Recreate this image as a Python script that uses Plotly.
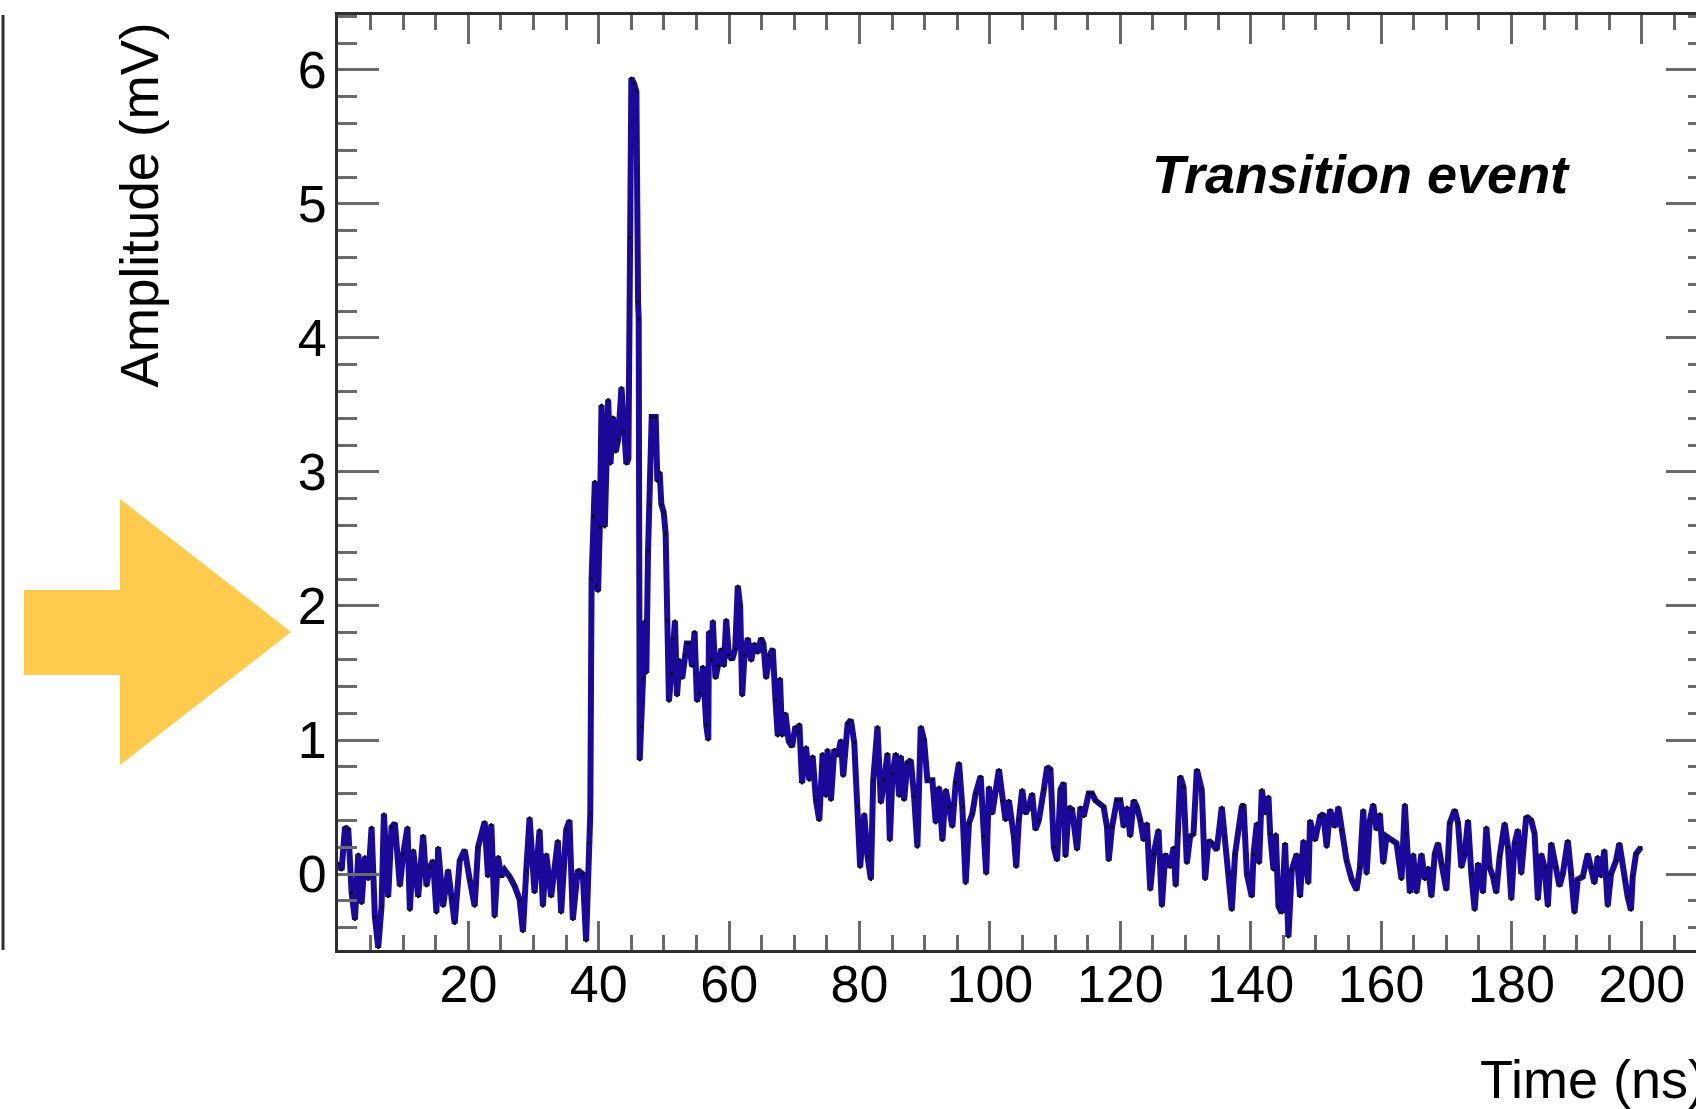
import plotly.graph_objects as go

# ---- digitiser trace, time in ns and amplitude in mV ----
t_baseline = [0.05, 0.56, 1.07, 1.58, 2.09, 2.6, 3.11, 3.62, 4.13, 4.64, 5.15, 5.66, 6.17, 6.68,
              7.04, 7.7, 8.21, 8.72, 9.49, 10.0, 10.66, 11.02, 11.53, 12.3, 13.06, 13.57, 14.08,
              14.59, 15.1, 15.36, 16.12, 16.89, 17.4, 17.9, 18.67, 19.44, 20.2, 20.97, 21.48,
              22.5, 23.01, 23.52, 24.03, 24.54, 25.05, 25.56, 26.33, 27.09, 27.86, 28.37, 28.88,
              29.39, 30.15, 30.92, 31.43, 31.94, 32.7, 33.72, 34.23, 35.0, 35.51, 36.02, 36.78,
              37.55, 38.06, 38.4]
v_baseline = [0.08, 0.03, 0.35, 0.33, -0.14, -0.34, 0.15, -0.22, 0.13, -0.04, 0.35, -0.32, -0.55,
              -0.24, 0.45, -0.17, 0.35, 0.38, -0.09, 0.15, 0.35, -0.27, 0.18, -0.17, 0.29, -0.09,
              0.05, 0.10, -0.29, 0.20, -0.24, 0.03, -0.17, -0.37, 0.10, 0.18, -0.04, -0.24, 0.20,
              0.39, -0.02, 0.37, -0.32, 0.13, -0.02, 0.03, -0.02, -0.09, -0.19, -0.43, 0.03, 0.42,
              -0.14, 0.33, -0.24, 0.15, -0.17, 0.25, -0.29, 0.33, 0.40, -0.34, 0.03, 0.0, -0.50,
              0.23]

t_pulse = [38.7, 38.9, 39.14, 39.4, 39.65, 39.9, 40.16, 40.42, 40.93, 41.44, 41.8, 42.2, 42.6,
           42.97, 43.48, 43.8, 44.24, 44.55, 44.75, 45.0, 45.4, 45.77, 46.03, 46.13, 46.28]
v_pulse = [0.45, 2.20, 2.67, 2.93, 2.15, 2.11, 2.59, 3.50, 2.59, 3.54, 3.06, 3.41, 3.15, 3.24,
           3.63, 3.3, 3.06, 3.1, 4.75, 5.94, 5.9, 5.84, 4.27, 4.14, 0.85]

t_shoulder = [46.54, 46.79, 47.05, 47.3, 47.56, 47.81, 48.12, 48.73, 48.99, 49.34, 49.6, 49.96,
              50.26, 50.52, 50.77, 51.13, 51.39, 51.69, 52.0, 52.4, 52.8, 53.17, 53.5, 53.9,
              54.3, 54.7, 55.06, 55.47, 55.98, 56.49, 56.8, 56.9, 57.25, 57.5, 57.9, 58.27,
              58.78, 59.19, 59.55, 59.96, 60.47, 60.93, 61.33, 61.69, 62.0, 62.35, 62.86, 63.37,
              63.88, 64.4, 64.9, 65.26, 65.67, 66.18, 66.69, 67.1, 67.46, 67.8, 68.12, 68.63,
              69.14, 69.65, 70.16, 70.57]
v_shoulder = [1.1, 1.46, 1.89, 1.5, 2.41, 2.76, 3.41, 3.41, 2.93, 3.0, 2.76, 2.7, 2.54, 1.89,
              1.29, 1.5, 1.76, 1.89, 1.33, 1.6, 1.46, 1.63, 1.72, 1.72, 1.55, 1.81, 1.29, 1.35,
              1.55, 1.11, 1.0, 1.81, 1.6, 1.89, 1.46, 1.55, 1.68, 1.55, 1.9, 1.63, 1.6, 1.68,
              2.15, 2.0, 1.33, 1.63, 1.76, 1.59, 1.72, 1.65, 1.76, 1.72, 1.46, 1.63, 1.68, 1.3,
              1.03, 1.46, 1.03, 1.2, 0.99, 0.95, 1.1, 1.06]

t_tail_a = [70.77, 71.18, 71.79, 72.3, 72.81, 73.32, 73.83, 74.34, 74.85, 75.1, 75.62, 76.13,
            76.64, 77.15, 77.5, 78.17, 78.68, 79.19, 79.7, 80.1, 80.72, 81.23, 81.74, 82.1,
            82.76, 83.27, 83.78, 84.29, 84.65, 85.06, 85.57, 86.08, 86.33, 86.84, 87.35, 87.86,
            88.37, 88.88, 89.39, 89.9, 90.41, 91.18, 91.69, 92.2, 92.71, 93.22, 93.73, 94.24,
            94.75, 95.26, 95.77, 96.28, 96.79, 97.3, 97.81, 98.58, 99.09, 99.44, 99.85, 100.36,
            101.38, 101.89, 102.4, 102.91, 103.68, 104.04, 104.44, 104.95, 105.46, 105.97,
            106.48, 106.99, 107.5, 108.27, 108.78, 109.29, 109.8, 110.31, 110.82, 111.33,
            111.59, 112.1, 112.61, 113.37, 113.88, 114.39, 115.16, 115.67, 116.18, 116.69,
            117.45, 117.96, 118.22, 118.73, 119.49, 120.0, 120.52, 121.03, 121.53, 122.05,
            122.56, 123.07, 123.58, 124.09, 124.6, 125.11, 125.87, 126.38, 126.89, 127.66,
            128.17, 128.5, 128.93, 129.19, 129.7, 130.21, 130.72, 131.23, 131.74, 132.5, 133.01,
            133.52, 134.03, 134.8, 135.57, 136.07, 136.59, 137.1, 137.61, 138.12, 138.63]
v_tail_a = [1.12, 0.68, 0.95, 0.7, 0.88, 0.55, 0.40, 0.90, 0.58, 0.93, 0.55, 0.93, 0.88, 1.0,
            0.73, 1.12, 1.15, 0.98, 0.5, 0.05, 0.45, 0.13, -0.04, 0.70, 1.10, 0.53, 0.70, 0.90,
            0.25, 0.75, 0.90, 0.58, 0.88, 0.55, 0.83, 0.85, 0.58, 0.20, 1.10, 1.0, 0.70, 0.70,
            0.38, 0.65, 0.25, 0.63, 0.50, 0.35, 0.68, 0.83, 0.50, -0.07, 0.38, 0.45, 0.60, 0.73,
            0.28, 0.0, 0.65, 0.45, 0.78, 0.55, 0.40, 0.55, 0.28, 0.05, 0.40, 0.63, 0.45, 0.50,
            0.60, 0.33, 0.40, 0.63, 0.80, 0.78, 0.20, 0.10, 0.63, 0.68, 0.13, 0.50, 0.48, 0.18,
            0.50, 0.43, 0.60, 0.60, 0.55, 0.53, 0.50, 0.35, 0.10, 0.35, 0.55, 0.55, 0.35, 0.50,
            0.28, 0.55, 0.50, 0.40, 0.25, 0.38, -0.12, 0.15, 0.33, -0.24, 0.15, 0.05, 0.20,
            -0.09, 0.30, 0.73, 0.65, 0.08, 0.28, 0.30, 0.78, 0.63, -0.04, 0.25, 0.23, 0.18,
            0.50, 0.28, 0.0, -0.27, 0.15, 0.33, 0.50]

t_tail_b = [138.9, 139.42, 140.18, 140.44, 140.95, 141.3, 141.71, 142.22, 142.73, 142.99, 143.5,
            143.85, 144.26, 144.77, 145.28, 145.79, 146.3, 147.07, 147.58, 148.09, 148.85,
            149.11, 149.87, 150.64, 151.15, 151.66, 152.17, 152.94, 153.45, 153.96, 154.72,
            155.49, 156.25, 156.76, 157.27, 157.78, 158.29, 158.8, 159.31, 159.82, 160.33,
            160.84, 161.61, 162.37, 163.14, 163.65, 163.9, 164.42, 164.93, 165.44, 166.2,
            166.71, 167.22, 167.73, 168.24, 168.75, 169.26, 170.03, 170.54, 171.3, 171.81,
            172.32, 172.83, 173.34, 173.85, 174.36, 174.87, 175.64, 176.15, 176.66, 177.17,
            177.68, 178.19, 178.96, 179.47, 179.98, 180.49, 181.0, 181.51, 182.27, 183.04,
            183.55, 184.06, 184.57, 185.08, 185.59, 186.1, 186.86, 187.37, 187.88, 188.65,
            189.16, 189.67, 190.18, 190.95, 191.71, 192.22, 192.73, 193.24, 193.75, 194.26,
            194.77, 195.28, 196.05, 196.56, 197.33, 197.83, 198.34, 198.6, 199.11, 199.87]
v_tail_b = [0.52, 0.0, -0.17, 0.15, 0.38, 0.08, 0.63, 0.45, 0.58, 0.30, 0.03, 0.30, -0.24,
            -0.29, 0.23, -0.47, 0.03, 0.15, -0.17, 0.25, -0.07, 0.40, 0.25, 0.43, 0.45, 0.20,
            0.48, 0.35, 0.50, 0.33, 0.10, -0.04, -0.12, 0.05, 0.48, 0.0, 0.40, 0.52, 0.33, 0.45,
            0.08, 0.28, 0.25, 0.23, -0.04, 0.52, 0.30, -0.14, 0.15, -0.14, 0.15, -0.04, 0.05,
            -0.17, 0.15, 0.23, 0.08, -0.12, 0.38, 0.48, 0.38, 0.05, 0.15, 0.40, 0.0, -0.27,
            0.08, -0.14, 0.35, 0.05, -0.02, -0.14, 0.13, 0.38, 0.20, -0.19, 0.23, 0.33, 0.0,
            0.43, 0.40, 0.30, -0.19, 0.15, 0.05, -0.24, 0.23, 0.05, -0.09, 0.0, 0.25, 0.0,
            -0.29, -0.04, -0.02, 0.15, 0.05, -0.07, 0.13, -0.02, 0.18, -0.24, 0.0, 0.10, 0.23,
            -0.04, -0.17, -0.27, -0.02, 0.15, 0.20]

# ---- axis ticks ----
x_tick_vals = [20, 40, 60, 80, 100, 120, 140, 160, 180, 200]
x_tick_text = ["20", "40", "60", "80", "100", "120", "140", "160", "180", "200"]
y_tick_vals = [0, 1, 2, 3, 4, 5, 6]
y_tick_text = ["0", "1", "2", "3", "4", "5", "6"]

time_ns = t_baseline + t_pulse + t_shoulder + t_tail_a + t_tail_b
amp_mv = v_baseline + v_pulse + v_shoulder + v_tail_a + v_tail_b

# ---- canvas geometry (pixels) ----
W, H = 1730, 1109
M_L, M_R, M_T, M_B = 338, 23, 15, 159
PW = W - M_L - M_R
PH = H - M_T - M_B


def px(x):
    """pixel column -> paper x"""
    return (x - M_L) / PW


def py(y):
    """pixel row -> paper y"""
    return (H - M_B - y) / PH


FONT = "Liberation Sans, Arial, Helvetica, sans-serif"
TRACE_BLUE = "#1b0a9a"
TICK_GREY = "#6a6a6a"
FRAME = "#2e2e2e"
ARROW_YELLOW = "#fecb4e"

fig = go.Figure()
fig.add_trace(go.Scatter(
    x=time_ns, y=amp_mv,
    mode="lines+markers",
    line=dict(color=TRACE_BLUE, width=6),
    marker=dict(color="black", size=3, line=dict(width=0)),
    showlegend=False,
    hoverinfo="x+y",
))

axis_common = dict(
    showline=True, linecolor=FRAME, linewidth=3, mirror="ticks",
    ticks="inside", tickcolor=TICK_GREY, tickwidth=3,
    showgrid=False, zeroline=False,
    tickfont=dict(family=FONT, size=52, color="black"),
)

fig.update_xaxes(
    range=[0, 210], tickmode="array", tickvals=x_tick_vals, ticktext=x_tick_text,
    ticklen=29, ticklabelstandoff=-13,
    minor=dict(tickmode="linear", tick0=0, dtick=5, ticks="inside", ticklen=15,
               tickcolor=TICK_GREY, tickwidth=3),
    **axis_common,
)
fig.update_yaxes(
    range=[-0.567, 6.41], tickmode="array", tickvals=y_tick_vals, ticktext=y_tick_text,
    ticklen=41, ticklabelstandoff=-2,
    minor=dict(tickmode="linear", tick0=0, dtick=0.2, ticks="inside", ticklen=19,
               tickcolor=TICK_GREY, tickwidth=3),
    **axis_common,
)

# yellow pointer arrow in the left margin
arrow_px = [(24, 590), (120, 590), (120, 499), (291, 632), (120, 765), (120, 675), (24, 675)]
arrow_path = "M " + " L ".join(f"{px(a):.5f},{py(b):.5f}" for a, b in arrow_px) + " Z"

fig.update_layout(
    width=W, height=H, autosize=False,
    margin=dict(l=M_L, r=M_R, t=M_T, b=M_B, pad=0),
    paper_bgcolor="white", plot_bgcolor="white",
    font=dict(family=FONT, color="black"),
    shapes=[
        dict(type="path", xref="paper", yref="paper", path=arrow_path,
             fillcolor=ARROW_YELLOW, line=dict(width=0), layer="above"),
        # frame edge of the neighbouring pad
        dict(type="line", xref="paper", yref="paper",
             x0=px(3), x1=px(3), y0=py(15), y1=py(950),
             line=dict(color=FRAME, width=3)),
    ],
    annotations=[
        dict(text="Transition event", xref="paper", yref="paper",
             x=px(1361), y=py(174), xanchor="center", yanchor="middle", showarrow=False,
             font=dict(family=FONT, size=54, color="black", weight="bold", style="italic")),
        dict(text="Time (ns)", xref="paper", yref="paper",
             x=px(1708), y=py(1079), xanchor="right", yanchor="middle", showarrow=False,
             font=dict(family=FONT, size=54, color="black")),
        dict(text="Amplitude (mV)", xref="paper", yref="paper", textangle=-90,
             x=px(139), y=py(20), xanchor="center", yanchor="top", showarrow=False,
             font=dict(family=FONT, size=53, color="black")),
    ],
)

fig.write_html(
    "out.html",
    post_script="document.documentElement.style.overflow='hidden';"
                "document.body.style.overflow='hidden';",
)
